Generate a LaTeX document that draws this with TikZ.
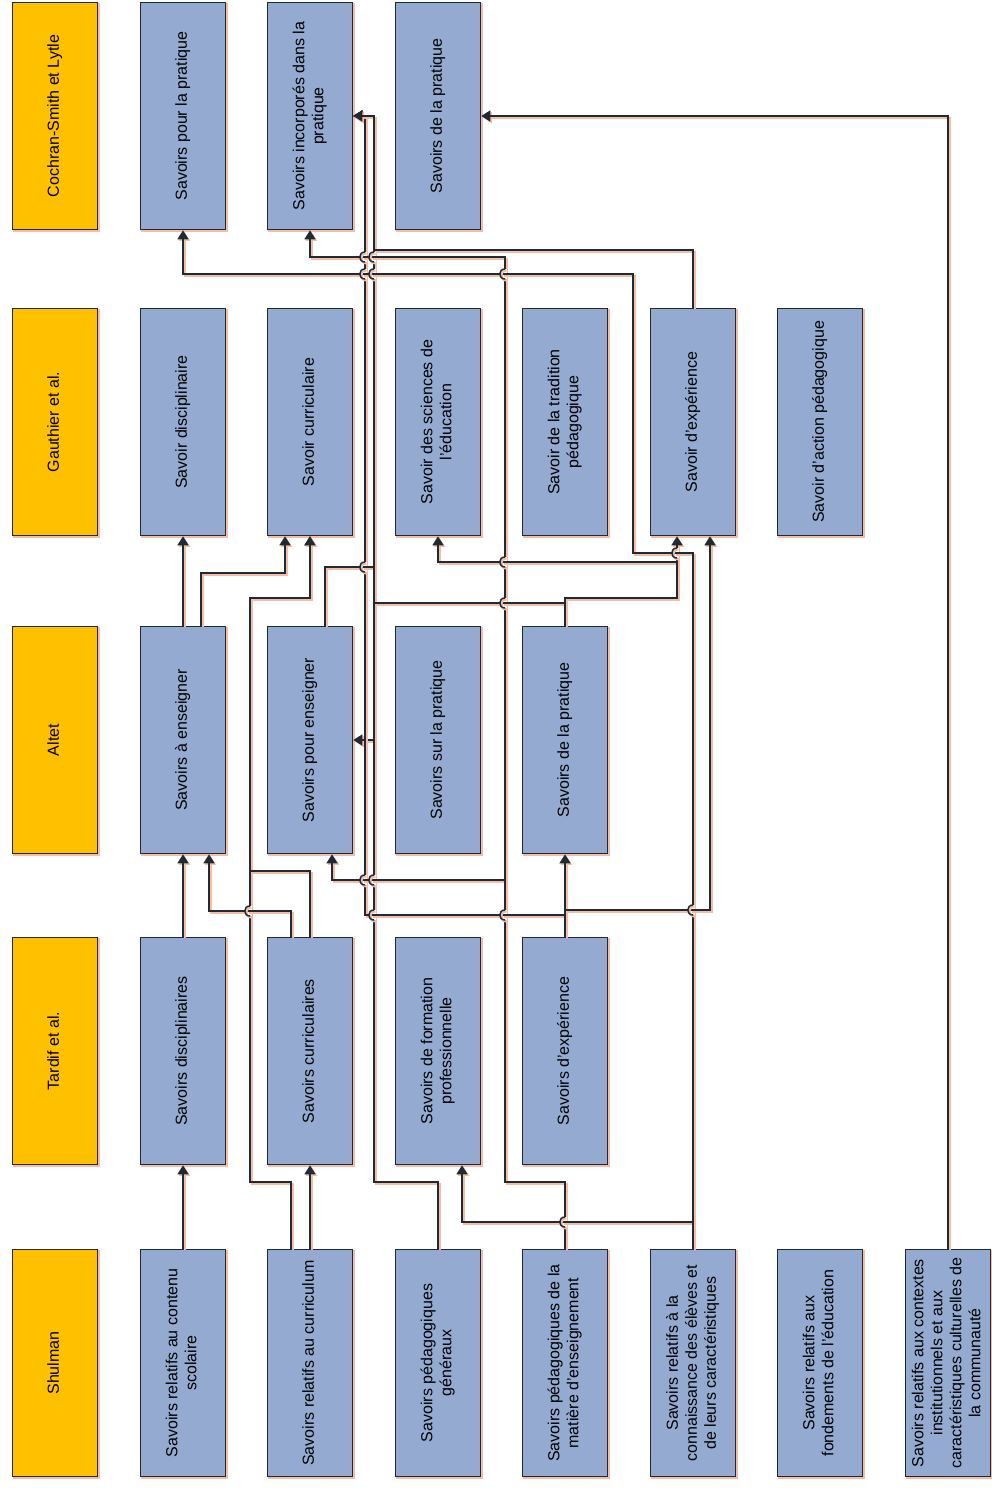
\documentclass[tikz,border=0pt]{standalone}
\usepackage{graphicx}
\usepackage{fontspec}
\setmainfont{Liberation Sans}
\usetikzlibrary{arrows.meta}
\definecolor{authorc}{RGB}{255,192,0}
\definecolor{boxc}{RGB}{149,170,208}
\definecolor{linec}{RGB}{30,42,52}
\definecolor{shadowc}{RGB}{246,188,166}
\newcommand{\vt}[1]{\rotatebox{90}{\begin{tabular}{@{}c@{}}#1\end{tabular}}}

\begin{document}
\begin{tikzpicture}[x=1pt, y=-1pt, font=\fontsize{16}{19}\selectfont,
  box/.style={draw=linec, line width=1.6pt, minimum width=85pt, minimum height=227pt, inner sep=0pt,
    preaction={draw=shadowc, line width=2pt, transform canvas={shift={(1.5pt,-1.5pt)}}}},
  author/.style={box, fill=authorc},
  savoir/.style={box, fill=boxc},
  conn/.style={draw=linec, line width=1.5pt,
    preaction={draw=shadowc, line width=2pt, transform canvas={shift={(1.5pt,-1.5pt)}}}},
  arr/.style={conn, -{Triangle[width=11pt,length=9pt]}}]

\useasboundingbox (0,0) rectangle (992,1494);

\node[author] (CS0) at (55,116) {\vt{Cochran-Smith et Lytle}};
\node[author] (G0) at (55,422) {\vt{Gauthier et al.}};
\node[author] (A0) at (55,740) {\vt{Altet}};
\node[author] (T0) at (55,1051) {\vt{Tardif et al.}};
\node[author] (S0) at (55,1363) {\vt{Shulman}};

\node[savoir] (CS1) at (183,116) {\vt{Savoirs pour la pratique}};
\node[savoir] (CS2) at (310,116) {\vt{Savoirs incorporés dans la\\pratique}};
\node[savoir] (CS3) at (438,116) {\vt{Savoirs de la pratique}};

\node[savoir] (G1) at (183,422) {\vt{Savoir disciplinaire}};
\node[savoir] (G2) at (310,422) {\vt{Savoir curriculaire}};
\node[savoir] (G3) at (438,422) {\vt{Savoir des sciences de\\l'éducation}};
\node[savoir] (G4) at (565,422) {\vt{Savoir de la tradition\\pédagogique}};
\node[savoir] (G5) at (693,422) {\vt{Savoir d'expérience}};
\node[savoir] (G6) at (820,422) {\vt{Savoir d'action pédagogique}};

\node[savoir] (A1) at (183,740) {\vt{Savoirs à enseigner}};
\node[savoir] (A2) at (310,740) {\vt{Savoirs pour enseigner}};
\node[savoir] (A3) at (438,740) {\vt{Savoirs sur la pratique}};
\node[savoir] (A4) at (565,740) {\vt{Savoirs de la pratique}};

\node[savoir] (T1) at (183,1051) {\vt{Savoirs disciplinaires}};
\node[savoir] (T2) at (310,1051) {\vt{Savoirs curriculaires}};
\node[savoir] (T3) at (438,1051) {\vt{Savoirs de formation\\professionnelle}};
\node[savoir] (T4) at (565,1051) {\vt{Savoirs d'expérience}};

\node[savoir] (S1) at (183,1363) {\vt{Savoirs relatifs au contenu\\scolaire}};
\node[savoir] (S2) at (310,1363) {\vt{Savoirs relatifs au curriculum}};
\node[savoir] (S3) at (438,1363) {\vt{Savoirs pédagogiques\\généraux}};
\node[savoir] (S4) at (565,1363) {\vt{Savoirs pédagogiques de la\\matière d'enseignement}};
\node[savoir] (S5) at (693,1363) {\vt{Savoirs relatifs à la\\connaissance des élèves et\\de leurs caractéristiques}};
\node[savoir] (S6) at (820,1363) {\vt{Savoirs relatifs aux\\fondements de l'éducation}};
\node[savoir] (S7) at (948,1363) {\vt{Savoirs relatifs aux contextes\\institutionnels et aux\\caractéristiques culturelles de\\la communauté}};

% Shulman
\draw[arr] (S1.north) -- (T1.south);
\draw[arr] (S2.north) -- (T2.south);
\draw[arr] ([xshift=-19pt]S2.north) |- (250,1182) |- (G2.south |- 0,598) -- (G2.south);
\draw[arr] (S3.north) |- (374,1182) |- (A2.east);
\draw[arr] (S3.north) |- (374,1182) |- (CS2.east);
\draw[arr] (S4.north) |- (505,1182) |- (CS2.south |- 0,257) -- (CS2.south);
\draw[arr] (S4.north) |- (505,1182) |- ([xshift=22pt]A2.south |- 0,880) -- ([xshift=22pt]A2.south);
\draw[arr] (S5.north) |- (633,553) |- (CS1.south |- 0,274) -- (CS1.south);
\draw[arr] (S5.north) |- ([xshift=24pt]T3.south |- 0,1222) -- ([xshift=24pt]T3.south);
\draw[arr] (S7.north) |- (CS3.east);

% Tardif et al.
\draw[arr] (T1.north) -- (A1.south);
\draw[arr] ([xshift=-19pt]T2.north) |- ([xshift=26pt]A1.south |- 0,911) -- ([xshift=26pt]A1.south);
\draw[arr] (T2.north) |- (250,871) |- (G2.south |- 0,598) -- (G2.south);
\draw[arr] (T4.north) -- (A4.south);
\draw[arr] (T4.north) |- ([xshift=17pt]G5.south |- 0,910) -- ([xshift=17pt]G5.south);
\draw[arr] (T4.north) |- (365,915) |- (CS2.east);

% Altet
\draw[arr] (A1.north) -- (G1.south);
\draw[arr] ([xshift=18pt]A1.north) |- ([xshift=-25pt]G2.south |- 0,573) -- ([xshift=-25pt]G2.south);
\draw[arr] ([xshift=15pt]A2.north) |- (374,567) |- (CS2.east);
\draw[arr] (A4.north) |- (374,603) |- (CS2.east);
\draw[arr] (A4.north) |- ([xshift=-16pt]G5.south |- 0,598) -- ([xshift=-16pt]G5.south);
\draw[arr] (A4.north) |- (677,598) |- (G3.south |- 0,562) -- (G3.south);

% Gauthier et al.
\draw[arr] (G5.north) |- (374,250) |- (CS2.east);

\foreach \x/\y in {250/911, 365/257, 365/274, 365/567, 365/880, 374/257, 374/274, 374/880,
  374/915, 505/274, 505/562, 505/603, 505/915, 677/553, 693/910, 565/1222}{
\fill[white] (\x-1.6,\y-5) rectangle (\x+1.6,\y+5);
\draw[conn] (\x-2.5,\y) -- (\x+2.5,\y);
\draw[conn] (\x,\y-5) .. controls (\x-7,\y-5) and (\x-7,\y+5) .. (\x,\y+5);
}

\end{tikzpicture}
\end{document}
